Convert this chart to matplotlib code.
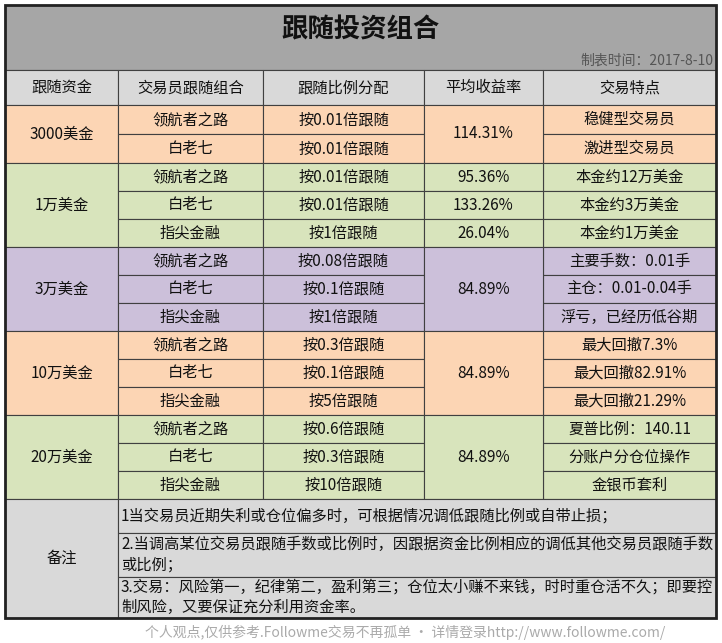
import matplotlib
matplotlib.use("Agg")
import matplotlib.pyplot as plt
from matplotlib.patches import Rectangle

plt.rcParams['font.family'] = ['Noto Sans CJK SC', 'DejaVu Sans']

title = "跟随投资组合"
date_note = "制表时间：2017-8-10"
headers = ["跟随资金", "交易员跟随组合", "跟随比例分配", "平均收益率", "交易特点"]
funds = ["3000美金", "1万美金", "3万美金", "10万美金", "20万美金"]
traders = [["领航者之路", "白老七"],
           ["领航者之路", "白老七", "指尖金融"],
           ["领航者之路", "白老七", "指尖金融"],
           ["领航者之路", "白老七", "指尖金融"],
           ["领航者之路", "白老七", "指尖金融"]]
ratios = [["按0.01倍跟随", "按0.01倍跟随"],
          ["按0.01倍跟随", "按0.01倍跟随", "按1倍跟随"],
          ["按0.08倍跟随", "按0.1倍跟随", "按1倍跟随"],
          ["按0.3倍跟随", "按0.1倍跟随", "按5倍跟随"],
          ["按0.6倍跟随", "按0.3倍跟随", "按10倍跟随"]]
returns = [["114.31%"], ["95.36%", "133.26%", "26.04%"], ["84.89%"], ["84.89%"], ["84.89%"]]
features = [["稳健型交易员", "激进型交易员"],
            ["本金约12万美金", "本金约3万美金", "本金约1万美金"],
            ["主要手数：0.01手", "主仓：0.01-0.04手", "浮亏，已经历低谷期"],
            ["最大回撤7.3%", "最大回撤82.91%", "最大回撤21.29%"],
            ["夏普比例：140.11", "分账户分仓位操作", "金银币套利"]]
note_label = "备注"
notes = ["1当交易员近期失利或仓位偏多时，可根据情况调低跟随比例或自带止损；",
         "2.当调高某位交易员跟随手数或比例时，因跟据资金比例相应的调低其他交易员跟随手数\n或比例；",
         "3.交易：风险第一，纪律第二，盈利第三；仓位太小赚不来钱，时时重仓活不久；即要控\n制风险，又要保证充分利用资金率。"]
footer = "个人观点,仅供参考.Followme交易不再孤单 · 详情登录http://www.followme.com/"
group_colors = ["#fcd5b4", "#d8e4bc", "#ccc0da", "#fcd5b4", "#d8e4bc"]

fig = plt.figure(figsize=(7.22, 6.43), dpi=100)
ax = fig.add_axes([0, 0, 1, 1])
ax.set_xlim(0, 722); ax.set_ylim(643, 0); ax.axis('off')

cols = [5, 118, 263, 424, 543, 716]
ec = "#404040"

def cell(x0, x1, y0, y1, fc, text="", fs=11, ha='center', lw=0.8, **kw):
    ax.add_patch(Rectangle((x0, y0), x1 - x0, y1 - y0, facecolor=fc, edgecolor=ec, lw=lw))
    if text:
        tx = (x0 + x1) / 2 if ha == 'center' else x0 + 3
        ax.text(tx, (y0 + y1) / 2, text, ha=ha, va='center', fontsize=fs, color="#111", **kw)

# title
cell(cols[0], cols[-1], 5, 70, "#a6a6a6")
ax.text(361, 30, title, ha='center', va='center', fontsize=19, fontweight='bold', color="#111")
ax.text(713, 61, date_note, ha='right', va='center', fontsize=10, color="#555")
# header
for i, h in enumerate(headers):
    cell(cols[i], cols[i + 1], 70, 105, "#d9d9d9", h)

y = 105
rh = 28
for g in range(len(funds)):
    n = len(traders[g])
    h = 29 if n == 2 else rh
    fc = group_colors[g]
    cell(cols[0], cols[1], y, y + n * h, fc, funds[g])
    for r in range(n):
        yy = y + r * h
        cell(cols[1], cols[2], yy, yy + h, fc, traders[g][r])
        cell(cols[2], cols[3], yy, yy + h, fc, ratios[g][r])
        cell(cols[4], cols[5], yy, yy + h, fc, features[g][r])
    if len(returns[g]) == 1:
        cell(cols[3], cols[4], y, y + n * h, fc, returns[g][0])
    else:
        for r in range(n):
            cell(cols[3], cols[4], y + r * h, y + (r + 1) * h, fc, returns[g][r])
    y += n * h

note_bounds = [y, 533, 577, 618]
cell(cols[0], cols[1], note_bounds[0], note_bounds[-1], "#d9d9d9", note_label)
for i, t in enumerate(notes):
    cell(cols[1], cols[-1], note_bounds[i], note_bounds[i + 1], "#d9d9d9", t, fs=11, ha='left', linespacing=1.25)
ax.add_patch(Rectangle((cols[0], 5), cols[-1] - cols[0], 613, fill=False, edgecolor="#222", lw=2))
ax.text(405, 632, footer, ha='center', va='center', fontsize=10, color="#aaa")

fig.savefig("out.png", dpi=100)
